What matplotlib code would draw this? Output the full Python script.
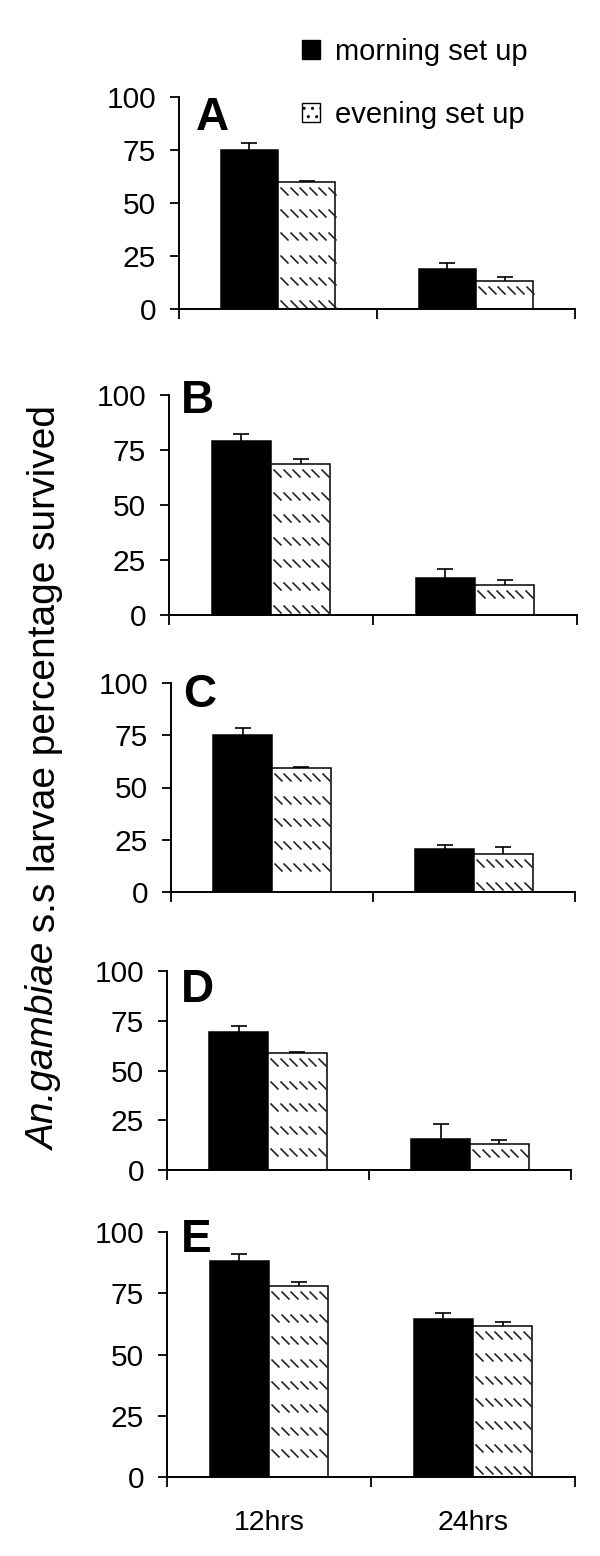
import matplotlib
matplotlib.use("Agg")
import matplotlib.pyplot as plt
from matplotlib.patches import Patch
from matplotlib.path import Path
from matplotlib.text import Annotation
import numpy as np

plt.rcParams['font.family'] = ['Liberation Sans', 'DejaVu Sans']

# data (% larvae survived, with SE)
periods = ["12hrs", "24hrs"]
panels = ["A", "B", "C", "D", "E"]
series = ["morning set up", "evening set up"]

morning = [[75.0, 19.0], [79.1, 16.8], [75.0, 20.6], [69.3, 15.6], [88.2, 64.6]]
morning_se = [[3.3, 2.8], [3.2, 4.1], [3.4, 1.9], [3.1, 7.5], [2.8, 2.4]]
evening = [[60.0, 13.2], [68.6, 13.6], [59.3, 18.2], [58.8, 13.1], [78.0, 61.8]]
evening_se = [[0.6, 1.9], [2.3, 2.3], [0.7, 3.3], [0.7, 2.0], [1.6, 1.6]]
yticks = [0, 25, 50, 75, 100]

# layout in pixels (left, top, right, bottom) of each panel
W, H = 600, 1556
boxes = [(179, 97, 575, 309), (169, 395, 577, 615), (171, 683, 575, 892),
         (167, 971, 571, 1170), (167, 1232, 575, 1477)]
letter_pos = [(196, 130), (181, 413), (183, 707), (181, 1002), (181, 1252)]

stroke = Path([(-1, 1), (1, -1)], [Path.MOVETO, Path.LINETO])


def dash_fill(ax, x0, w, h, box):
    # rows of short "\" dashes, like the old excel pattern fill
    px_x = 2.0 / (box[2] - box[0])
    px_y = 100.0 / (box[3] - box[1])
    top = h / px_y
    ys = np.arange(top - 9, 5, -22.6) * px_y
    xs = x0 + np.arange(6, w / px_x - 3, 9.5) * px_x
    gx, gy = np.meshgrid(xs, ys)
    ax.plot(gx.ravel(), gy.ravel(), ls='none', marker=stroke, ms=5.8,
            mec='#222222', mew=1.2, zorder=3)


fig = plt.figure(figsize=(W / 100, H / 100), dpi=100)
bw = 0.29
centers = np.array([0.5, 1.5])

for i, (l, t, r, b) in enumerate(boxes):
    ax = fig.add_axes([l / W, 1 - b / H, (r - l) / W, (b - t) / H])
    ax.errorbar(centers - bw / 2, morning[i], yerr=morning_se[i], fmt='none',
                ecolor='black', elinewidth=1.2, capsize=6, capthick=1.2, zorder=1)
    ax.errorbar(centers + bw / 2, evening[i], yerr=evening_se[i], fmt='none',
                ecolor='black', elinewidth=1.2, capsize=6, capthick=1.2, zorder=1)
    ax.bar(centers - bw / 2, morning[i], bw, color='black', edgecolor='black',
           linewidth=1.1, zorder=2)
    ax.bar(centers + bw / 2, evening[i], bw, color='white', edgecolor='black',
           linewidth=1.1, zorder=2)
    for c, v in zip(centers, evening[i]):
        dash_fill(ax, c, bw, v, (l, t, r, b))

    ax.set_xlim(0, 2)
    ax.set_ylim(0, 100)
    ax.spines['top'].set_visible(False)
    ax.spines['right'].set_visible(False)
    ax.spines['left'].set_linewidth(1.4)
    ax.spines['bottom'].set_linewidth(1.4)
    ax.set_yticks(yticks)
    ax.tick_params(axis='y', length=6.5, width=1.3, labelsize=21.5, pad=10)
    ax.set_xticks([0, 1, 2])
    ax.set_xticklabels([])
    ax.tick_params(axis='x', which='major', length=7, width=1.3)
    if i == len(boxes) - 1:
        ax.set_xticks(centers, periods, minor=True)
        ax.tick_params(axis='x', which='minor', length=0, labelsize=20.5, pad=24)

    lx, ly = letter_pos[i]
    fig.text(lx / W, 1 - ly / H, panels[i], fontsize=33, fontweight='bold',
             ha='left', va='baseline')

# y label: italic species name followed by plain text
t1 = fig.text(45 / W, 1 - 1150 / H, 'An.gambiae', style='italic', rotation=90,
              ha='center', va='bottom', fontsize=28)
rest = Annotation(' s.s larvae percentage survived', xy=(0.5, 1), xycoords=t1,
                  rotation=90, ha='center', va='bottom', fontsize=28)
fig.add_artist(rest)

handles = [Patch(facecolor='black', edgecolor='black'),
           Patch(facecolor='white', edgecolor='black', hatch='..')]
fig.legend(handles, series, loc='upper left', bbox_to_anchor=(302 / W, 1 - 38 / H),
           frameon=False, fontsize=21, handlelength=0.62, handleheight=0.62,
           handletextpad=0.5, labelspacing=1.2, borderpad=0, borderaxespad=0)

fig.savefig("out.png", dpi=100)
